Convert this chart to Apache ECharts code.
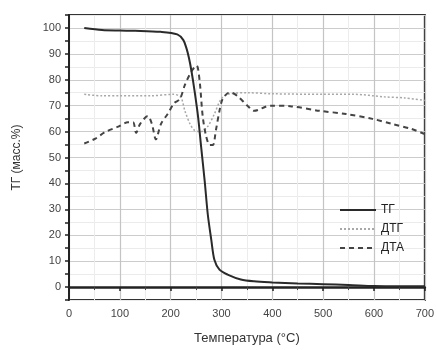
<!DOCTYPE html>
<html>
<head>
<meta charset="utf-8">
<script src="https://cdn.jsdelivr.net/npm/echarts@6/dist/echarts.min.js"></script>
<style>
  html, body { margin: 0; padding: 0; background: #fff; }
  #chart { width: 437px; height: 350px; }
</style>
</head>
<body>
<div id="chart"></div>
<script>
// ТГ - потеря массы
const tgTemp = [30, 65, 100, 130, 180, 213, 225, 231, 236, 241, 247, 254, 260, 267, 273, 280, 286, 296, 312, 338, 364, 400, 450, 500, 550, 600, 650, 700];
const tgMass = [100, 99.2, 99, 98.9, 98.5, 97.5, 95.3, 92.2, 88.4, 83.3, 75.7, 65.6, 54, 40.8, 28.1, 18.1, 10.5, 6.7, 4.8, 2.9, 2.2, 1.8, 1.4, 1.1, 0.8, 0.4, 0.3, 0.3];

// ДТГ
const dtgTemp = [30, 65, 100, 160, 206, 220, 228, 238, 247, 260, 273, 286, 299, 312, 350, 400, 500, 560, 620, 660, 700];
const dtgVal = [74.4, 73.8, 73.8, 73.8, 74.4, 73.2, 68, 63, 60.5, 60, 62, 66.8, 72.5, 74.4, 75, 74.6, 74.4, 74.4, 73.4, 73, 72];

// ДТА
const dtaTemp = [30, 52, 71, 97, 116, 126, 132, 140, 155, 163, 171, 181, 194, 207, 218, 228, 241, 251, 257, 263, 270, 277, 283, 289, 296, 302, 312, 319, 331, 351, 364, 396, 435, 493, 545, 597, 635, 674, 700];
const dtaVal = [55.4, 57.3, 59.8, 61.9, 63.6, 63.6, 59.5, 63, 66, 63, 57, 63, 66.8, 71, 72.5, 78, 83.3, 85.5, 79.5, 66, 58, 54.8, 54.8, 60.5, 68, 72.5, 74.8, 75, 73.8, 70, 68, 70, 69.8, 68, 66.8, 64.9, 63, 61, 59];

const xTicks = [0, 100, 200, 300, 400, 500, 600, 700];
const yLabels = [0, 10, 20, 30, 40, 50, 60, 70, 80, 90, 100];

const pairs = (xs, ys) => xs.map((x, i) => [x, ys[i]]);

const chart = echarts.init(document.getElementById('chart'));
const font = "'Liberation Sans', Arial, sans-serif";

chart.setOption({
  animation: false,
  textStyle: { fontFamily: font },
  grid: {
    left: 69, right: 7, top: 15, bottom: 47,
    show: true, borderColor: '#333', borderWidth: 2
  },
  legend: {
    orient: 'vertical',
    left: 334, top: 199,
    itemWidth: 36, itemHeight: 10, itemGap: 7,
    itemStyle: { opacity: 0 },
    textStyle: { color: '#222', fontSize: 12, fontFamily: font },
    data: ['ТГ', 'ДТГ', 'ДТА']
  },
  xAxis: {
    type: 'value',
    min: xTicks[0], max: xTicks[xTicks.length - 1], interval: 100,
    name: 'Температура (°C)', nameLocation: 'middle', nameGap: 32,
    nameTextStyle: { color: '#333', fontSize: 13 },
    axisLine: { show: true, lineStyle: { color: '#222', width: 2.5 } },
    axisTick: { show: true, length: 4, lineStyle: { color: '#222', width: 1.5 } },
    minorTick: { show: true, splitNumber: 2, length: 3, lineStyle: { color: '#444' } },
    axisLabel: { color: '#444', fontSize: 11, margin: 8 },
    splitLine: { show: true, lineStyle: { color: '#c4c4c4', width: 1.2 } },
    minorSplitLine: { show: true, lineStyle: { color: '#ececec', width: 1 } }
  },
  yAxis: {
    type: 'value',
    min: -5, max: 105, interval: 5,
    name: 'ТГ (масс.%)', nameLocation: 'middle', nameGap: 46, nameRotate: 90,
    nameTextStyle: { color: '#333', fontSize: 12 },
    axisLine: { show: true, lineStyle: { color: '#222', width: 2 } },
    axisTick: { show: true, length: 4, lineStyle: { color: '#222', width: 1.5 } },
    axisLabel: {
      color: '#444', fontSize: 11, margin: 8,
      formatter: v => (yLabels.indexOf(v) >= 0 ? String(v) : '')
    },
    splitLine: { show: true, lineStyle: { color: ['#ebebeb', '#cccccc'], width: 1.2 } }
  },
  series: [
    {
      name: 'ТГ', type: 'line', data: pairs(tgTemp, tgMass),
      symbol: 'none', smooth: 0.3, z: 4,
      lineStyle: { color: '#2a2a2a', width: 2 },
      itemStyle: { color: '#2a2a2a' }
    },
    {
      name: 'ДТГ', type: 'line', data: pairs(dtgTemp, dtgVal),
      symbol: 'none', smooth: 0.3, z: 2,
      lineStyle: { color: '#a8a8a8', width: 1.5, type: [2, 2] },
      itemStyle: { color: '#777' }
    },
    {
      name: 'ДТА', type: 'line', data: pairs(dtaTemp, dtaVal),
      symbol: 'none', smooth: 0.3, z: 3,
      lineStyle: { color: '#444', width: 2, type: [5, 4] },
      itemStyle: { color: '#444' }
    }
  ]
});
</script>
</body>
</html>
